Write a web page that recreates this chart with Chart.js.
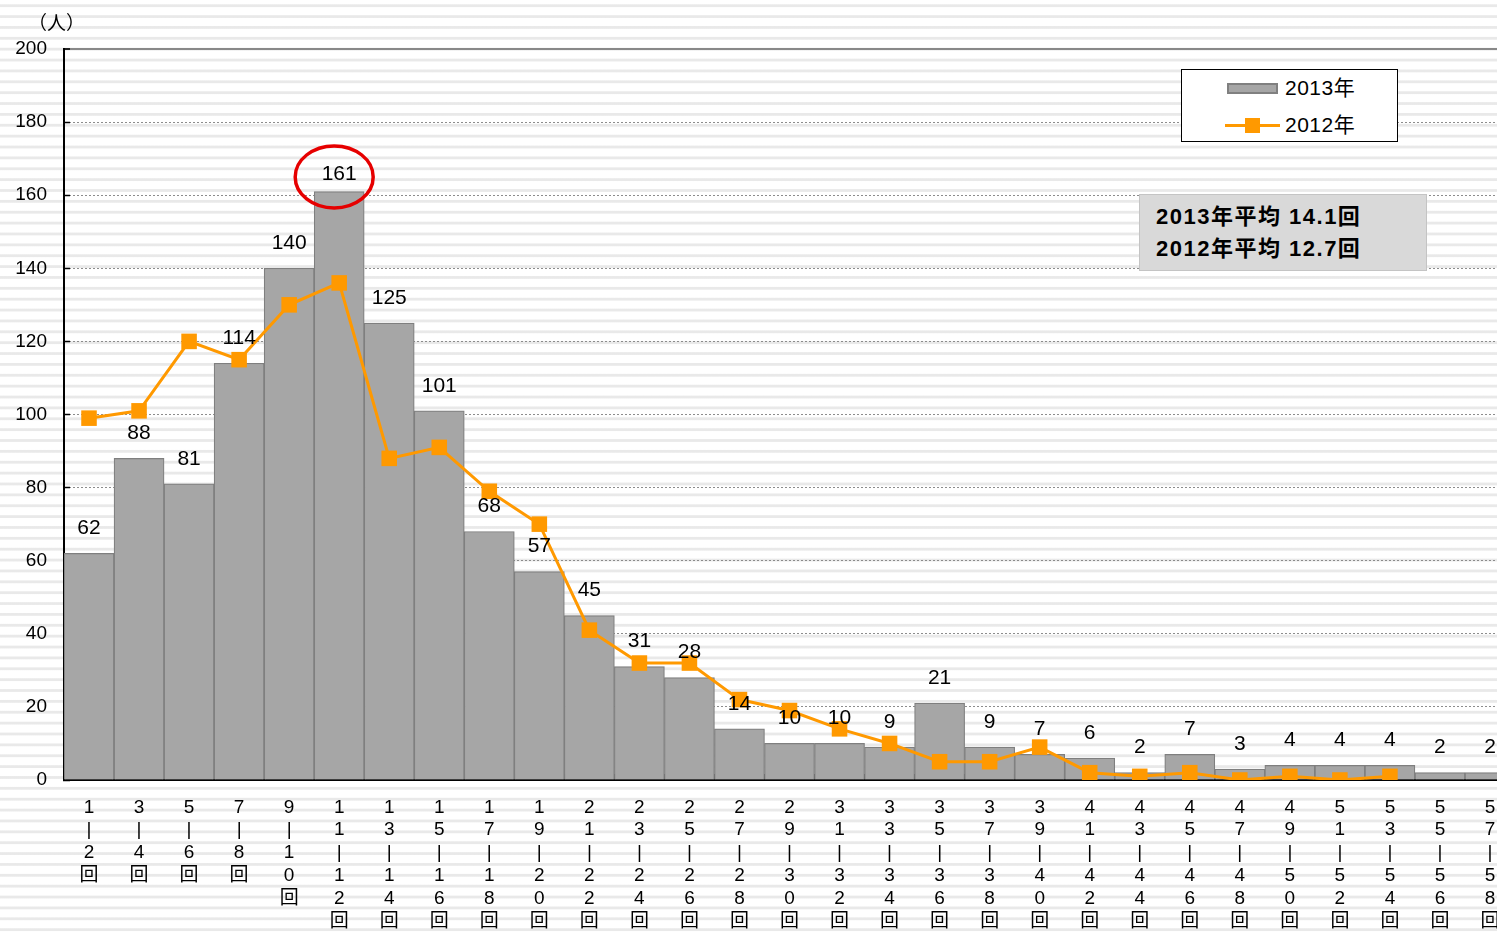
<!DOCTYPE html>
<html>
<head>
<meta charset="utf-8">
<script src="https://cdn.jsdelivr.net/npm/chart.js@4/dist/chart.umd.min.js"></script>
<style>
  body {
    margin: 0;
    width: 1497px;
    height: 932px;
    overflow: hidden;
    font-family: "Liberation Sans", "Noto Sans CJK JP", sans-serif;
    background: repeating-linear-gradient(to bottom,
      #fff 0px, #fff 3.8px, #e9e9e9 4.8px, #e9e9e9 6.6px, #fff 7.6px, #fff 10.87px);
  }
  #wrap { position: absolute; left: 0; top: 0; width: 1526px; height: 932px; }
  .unit { position: absolute; left: 28px; top: 8px; font-size: 19px; }
  .legend {
    position: absolute; left: 1181px; top: 69px; width: 215px; height: 71px;
    background: #fff; border: 1.5px solid #000;
  }
  .legend .row { position: absolute; left: 0; height: 24px; line-height: 24px; font-size: 21px; }
  .legend .txt { position: absolute; left: 103px; top: 0; white-space: nowrap; letter-spacing: 0.5px; }
  .sw-bar { position: absolute; left: 45px; top: 7px; width: 47px; height: 7px; background: #a6a6a6; border: 2px solid #808080; }
  .sw-line { position: absolute; left: 43px; top: 11px; width: 55px; height: 3px; background: #ff9900; }
  .sw-pt { position: absolute; left: 63px; top: 5px; width: 15px; height: 15px; background: #ff9900; }
  .avg {
    position: absolute; left: 1139px; top: 194px; width: 286px; height: 75px;
    background: #d9d9d9; border: 1px solid #c4c4c4;
    font-weight: bold; font-size: 22px; letter-spacing: 1.5px;
  }
  .avg div { position: absolute; left: 16px; height: 30px; line-height: 30px; white-space: nowrap; }
</style>
</head>
<body>
<div id="wrap"><canvas id="chart" width="1526" height="932"></canvas></div>
<div class="unit">（人）</div>
<div class="legend">
  <div class="row" style="top:6px"><span class="sw-bar"></span><span class="txt">2013年</span></div>
  <div class="row" style="top:43px"><span class="sw-line"></span><span class="sw-pt"></span><span class="txt">2012年</span></div>
</div>
<div class="avg">
  <div style="top:7px">2013年平均 14.1回</div>
  <div style="top:39px">2012年平均 12.7回</div>
</div>
<script>
// カテゴリ（回数）
const categories = ['1-2回', '3-4回', '5-6回', '7-8回', '9-10回', '11-12回', '13-14回', '15-16回',
  '17-18回', '19-20回', '21-22回', '23-24回', '25-26回', '27-28回', '29-30回', '31-32回',
  '33-34回', '35-36回', '37-38回', '39-40回', '41-42回', '43-44回', '45-46回', '47-48回',
  '49-50回', '51-52回', '53-54回', '55-56回', '57-58回'];

// 2013年（棒）
const values2013 = [62, 88, 81, 114, 140, 161, 125, 101, 68, 57, 45, 31, 28, 14, 10, 10,
  9, 21, 9, 7, 6, 2, 7, 3, 4, 4, 4, 2, 2];

// 2012年（折れ線）
const values2012 = [99, 101, 120, 115, 130, 136, 88, 91, 79, 70, 41, 32, 32, 22, 19, 14,
  10, 5, 5, 9, 2, 1, 2, 0, 1, 0, 1, null, null];

const yTicks = [0, 20, 40, 60, 80, 100, 120, 140, 160, 180, 200];

// 最大値を丸で囲む
const highlightIndex = 5;

const FONT = '"Liberation Sans", "Noto Sans CJK JP", sans-serif';

// ラベルを縦書き風に分解
function verticalLabel(s) {
  return s.split('').map(c => c === '-' ? '|' : c);
}

const barLabels = {
  id: 'barLabels',
  afterDatasetsDraw(chart) {
    const ctx = chart.ctx;
    const meta = chart.getDatasetMeta(1);
    ctx.save();
    ctx.font = '21px ' + FONT;
    ctx.fillStyle = '#000';
    ctx.textAlign = 'center';
    ctx.textBaseline = 'middle';
    meta.data.forEach((bar, i) => {
      const off = i === highlightIndex ? 17 : 25;
      ctx.fillText(String(values2013[i]), bar.x, bar.y - off);
    });

    // 赤い楕円
    const x = chart.scales.x.getPixelForValue(highlightIndex);
    const y = chart.scales.y.getPixelForValue(values2013[highlightIndex] + 4);
    ctx.strokeStyle = '#e60000';
    ctx.lineWidth = 3.5;
    ctx.beginPath();
    ctx.ellipse(x - 5, y, 39, 31, 0, 0, Math.PI * 2);
    ctx.stroke();
    ctx.restore();
  }
};

new Chart(document.getElementById('chart'), {
  data: {
    labels: categories.map(verticalLabel),
    datasets: [
      {
        type: 'line',
        label: '2012年',
        data: values2012,
        order: 0,
        borderColor: '#ff9900',
        backgroundColor: '#ff9900',
        borderWidth: 3,
        pointStyle: 'rect',
        pointRadius: 11,
        pointBorderWidth: 0,
        tension: 0
      },
      {
        type: 'bar',
        label: '2013年',
        data: values2013,
        order: 1,
        backgroundColor: '#a6a6a6',
        borderColor: '#7f7f7f',
        borderWidth: 1.2,
        barPercentage: 1,
        categoryPercentage: 1
      }
    ]
  },
  options: {
    responsive: false,
    animation: false,
    layout: { padding: { top: 49, left: 0, right: 0, bottom: 0 } },
    plugins: {
      legend: { display: false },
      tooltip: { enabled: false }
    },
    scales: {
      x: {
        offset: true,
        afterFit(scale) { scale.height = 152; },
        grid: {
          display: true,
          offset: true,
          drawOnChartArea: false,
          drawTicks: true,
          tickLength: -6,
          tickColor: '#000',
          tickWidth: 1.5
        },
        border: { display: true, color: '#000', width: 2 },
        ticks: {
          autoSkip: false,
          maxRotation: 0,
          minRotation: 0,
          padding: 22,
          color: '#000',
          font: { family: FONT, size: 19, lineHeight: 1.2 }
        }
      },
      y: {
        min: 0,
        max: 200,
        afterFit(scale) { scale.width = 64; },
        afterBuildTicks(scale) { scale.ticks = yTicks.map(v => ({ value: v })); },
        grid: {
          color: ctx => ctx.tick && ctx.tick.value === 200 ? '#888' : '#8c8c8c',
          lineWidth: ctx => ctx.tick && ctx.tick.value === 200 ? 2 : 1,
          drawTicks: true,
          tickLength: -6,
          tickColor: '#000',
          tickWidth: 1.5,
          tickBorderDash: []
        },
        border: {
          display: true,
          color: '#000',
          width: 2,
          dash: ctx => ctx.tick && ctx.tick.value === 200 ? [] : [2, 2]
        },
        ticks: {
          padding: 23,
          color: '#000',
          font: { family: FONT, size: 19 }
        }
      }
    }
  },
  plugins: [barLabels]
});
</script>
</body>
</html>
